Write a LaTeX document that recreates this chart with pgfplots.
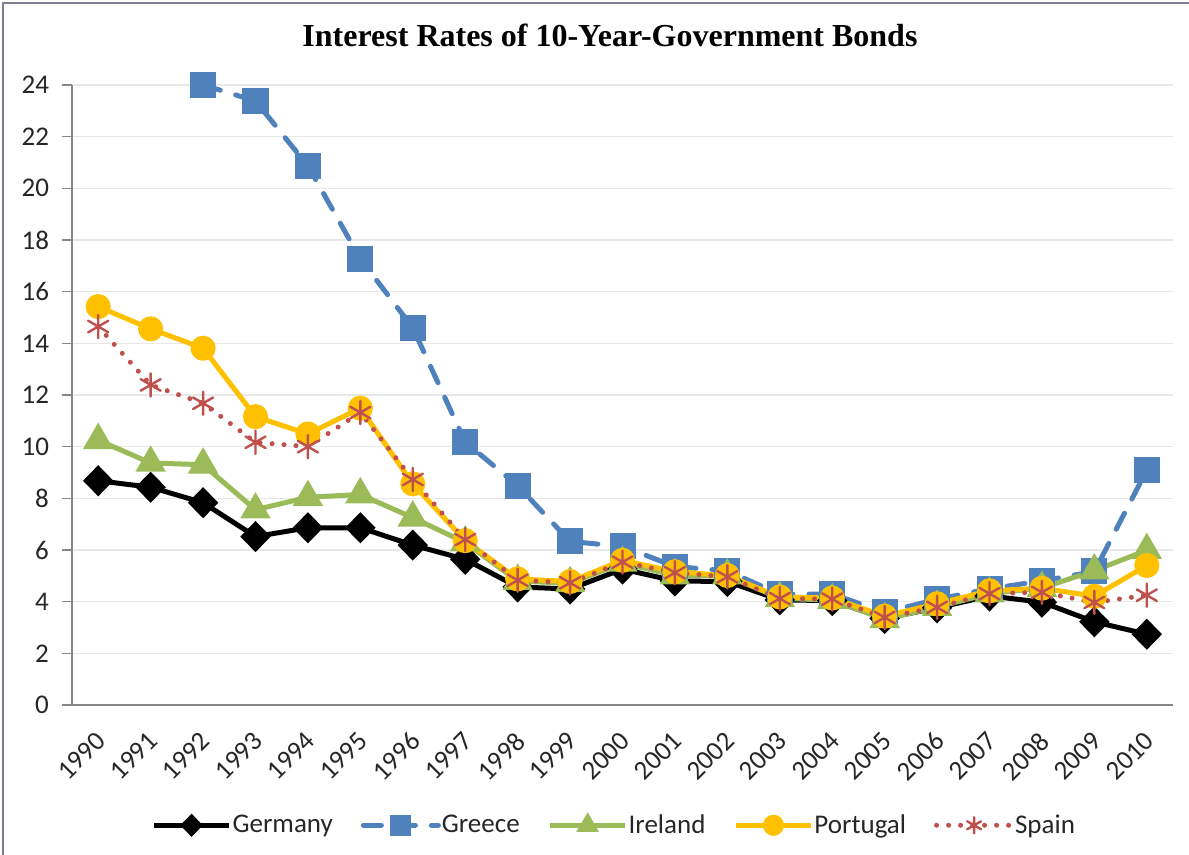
\documentclass[border=0pt]{standalone}
\usepackage{pgfplots}
\pgfplotsset{compat=1.18}
\usepackage{fontspec}
\setmainfont{Carlito}
\newfontfamily\titlefont{Liberation Serif}

\definecolor{greececol}{HTML}{4F81BD}
\definecolor{irelandcol}{HTML}{9BBB59}
\definecolor{portugalcol}{HTML}{FFC000}
\definecolor{spaincol}{HTML}{C0504D}
\definecolor{axiscol}{HTML}{868686}
\definecolor{framecol}{HTML}{7F7F8F}

\begin{document}
\begin{tikzpicture}
% fixed page: 1 px of the reference = 0.5pt
\useasboundingbox (-36pt,-75pt) rectangle (558.5pt,352.5pt);
\begin{axis}[
    at={(0,0)}, anchor=south west,
    scale only axis,
    width=550.5pt, height=310pt,
    xmin=-0.5, xmax=20.5,
    ymin=0, ymax=24,
    clip=false,
    axis x line*=bottom,
    axis y line*=left,
    axis line style={axiscol, line width=0.8pt, -},
    xtick={0,...,20},
    xticklabels={1990,1991,1992,1993,1994,1995,1996,1997,1998,1999,2000,2001,2002,2003,2004,2005,2006,2007,2008,2009,2010},
    x tick style={draw=none},
    extra x ticks={-0.5,0.5,...,20.5},
    extra x tick labels={},
    extra x tick style={grid=none, tick style={axiscol, line width=0.8pt}},
    ytick={0,2,...,24},
    y tick style={axiscol, line width=0.8pt},
    tick align=outside,
    major tick length=5pt,
    ymajorgrids=true,
    grid style={gray!18, line width=0.6pt},
    /pgf/number format/assume math mode=true,
    ticklabel style={font=\fontsize{13.5}{15}\selectfont, text=black!85},
    yticklabel style={xshift=-3pt},
    xticklabel style={rotate=45, anchor=north east, inner sep=1pt, xshift=-5.6pt, yshift=-2.9pt},
    legend columns=5,
    legend style={at={(0.493,-0.194)}, anchor=center, draw=none, fill=none,
        font=\fontsize{13.5}{15}\selectfont, text=black!85,
        nodes={inner xsep=1.5pt},
        /tikz/every even column/.append style={column sep=12.5pt},
        /tikz/every odd column/.append style={column sep=-1pt}},
    legend cell align=left,
    legend image code/.code={%
        \draw[mark repeat=2, mark phase=2, #1, mark size=4pt]
        plot coordinates {(0pt,0pt) (18.75pt,0pt) (37.5pt,0pt)};},
]
\addplot[black, line width=2.5pt, mark=diamond*, mark size=6pt,
    mark options={solid, xscale=1.3}] coordinates {
(0,8.68) (1,8.43) (2,7.83) (3,6.52) (4,6.86) (5,6.86) (6,6.19) (7,5.64)
(8,4.57) (9,4.49) (10,5.26) (11,4.80) (12,4.78) (13,4.07) (14,4.04)
(15,3.35) (16,3.76) (17,4.22) (18,3.98) (19,3.22) (20,2.74)
};
\addlegendentry{Germany}
\addplot[greececol, line width=2.5pt, line cap=round, dash pattern=on 9pt off 8pt,
    mark=square*, mark size=5.25pt, mark options={solid}] coordinates {
(2,24.0) (3,23.38) (4,20.87) (5,17.27) (6,14.6) (7,10.18) (8,8.49)
(9,6.33) (10,6.14) (11,5.36) (12,5.19) (13,4.29) (14,4.29) (15,3.59)
(16,4.09) (17,4.5) (18,4.8) (19,5.17) (20,9.09)
};
\addlegendentry{Greece}
\addplot[irelandcol, line width=2.5pt, mark=triangle*, mark size=6.3pt,
    mark options={solid}] coordinates {
(0,10.25) (1,9.37) (2,9.3) (3,7.56) (4,8.04) (5,8.15) (6,7.25) (7,6.29)
(8,4.8) (9,4.71) (10,5.5) (11,5.01) (12,5.01) (13,4.13) (14,4.06)
(15,3.32) (16,3.79) (17,4.31) (18,4.53) (19,5.2) (20,5.99)
};
\addlegendentry{Ireland}
\addplot[portugalcol, line width=2.5pt, mark=*, mark size=5pt,
    mark options={solid}] coordinates {
(0,15.42) (1,14.56) (2,13.81) (3,11.16) (4,10.49) (5,11.49) (6,8.56)
(7,6.36) (8,4.88) (9,4.78) (10,5.6) (11,5.16) (12,5.01) (13,4.18)
(14,4.14) (15,3.44) (16,3.92) (17,4.42) (18,4.52) (19,4.21) (20,5.4)
};
\addlegendentry{Portugal}
\addplot[spaincol, line width=2.5pt, line cap=round, dash pattern=on 0pt off 6pt,
    mark=asterisk, mark size=5.8pt, mark options={solid, line width=1.2pt}] coordinates {
(0,14.65) (1,12.39) (2,11.68) (3,10.17) (4,10.0) (5,11.32) (6,8.73)
(7,6.4) (8,4.83) (9,4.73) (10,5.53) (11,5.12) (12,4.96) (13,4.12)
(14,4.10) (15,3.39) (16,3.78) (17,4.31) (18,4.36) (19,3.97) (20,4.25)
};
\addlegendentry{Spain}
\end{axis}
\node[font=\titlefont\bfseries\fontsize{16}{19}\selectfont] at (269pt,335pt)
    {Interest Rates of 10-Year-Government Bonds};
\draw[framecol, line width=1pt] (-34.5pt,-75pt) -- (-34.5pt,351pt) -- (558.5pt,351pt);
\end{tikzpicture}
\end{document}
